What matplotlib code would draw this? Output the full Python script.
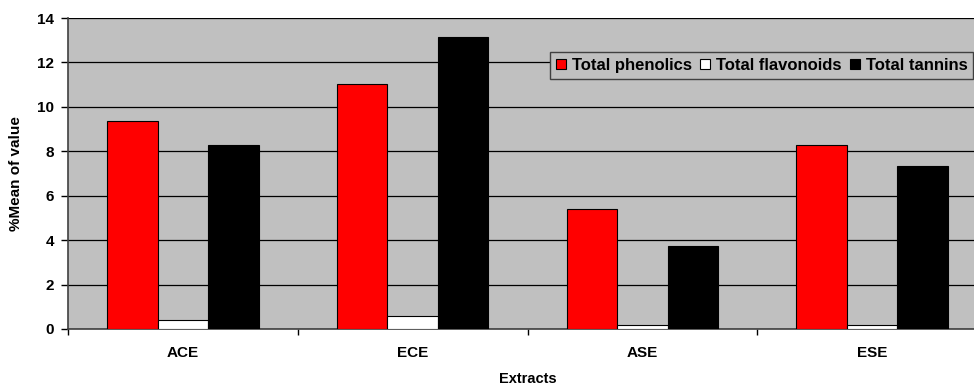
import matplotlib
matplotlib.use("Agg")
import matplotlib.pyplot as plt
import numpy as np

extracts = ["ACE", "ECE", "ASE", "ESE"]
series_names = ["Total phenolics", "Total flavonoids", "Total tannins"]
phenolics = [9.38, 11.02, 5.40, 8.29]
flavonoids = [0.40, 0.58, 0.20, 0.20]
tannins = [8.29, 13.15, 3.75, 7.34]
colors = ["#ff0000", "#ffffff", "#000000"]

plt.rcParams["font.family"] = ["Liberation Sans", "DejaVu Sans"]
plt.rcParams["font.weight"] = "bold"

fig = plt.figure(figsize=(9.74, 3.87), dpi=100)
ax = fig.add_axes([68 / 974, 58 / 387, 919 / 974, 311 / 387])
ax.set_facecolor("#c0c0c0")

x = np.arange(len(extracts))
w = 0.22
for i, (vals, name) in enumerate(zip([phenolics, flavonoids, tannins], series_names)):
    ax.bar(x + (i - 1) * w, vals, width=w, color=colors[i], edgecolor="black",
           linewidth=0.8, label=name, zorder=3)

ax.set_xlim(-0.5, len(extracts) - 0.5)
ax.set_ylim(0, 14)
ax.set_yticks(range(0, 15, 2))
ax.yaxis.grid(True, color="black", linewidth=0.9, zorder=1)
ax.set_axisbelow(True)

ax.set_xticks(x)
ax.set_xticklabels(extracts, fontsize=11, fontweight="bold")
ax.set_xticks(np.arange(-0.5, len(extracts)), minor=True)
ax.tick_params(axis="x", which="major", length=0, pad=12)
ax.tick_params(axis="x", which="minor", length=4, width=1, direction="out")
ax.tick_params(axis="y", length=5, width=1, labelsize=11, pad=5)
for lab in ax.get_yticklabels():
    lab.set_fontweight("bold")

for side in ["top", "right"]:
    ax.spines[side].set_visible(False)
ax.spines["left"].set_linewidth(1.2)
ax.spines["left"].set_color("#404040")
ax.spines["bottom"].set_linewidth(1.2)
ax.spines["bottom"].set_color("#404040")

ax.set_ylabel("%Mean of value", fontsize=11, fontweight="bold", labelpad=10)
ax.set_xlabel("Extracts", fontsize=10.5, fontweight="bold", labelpad=9)

leg = ax.legend(ncol=3, loc="upper left", bbox_to_anchor=(550 / 974, 1 - 52 / 387),
                bbox_transform=fig.transFigure, frameon=True, fancybox=False,
                prop={"size": 12, "weight": "bold"}, handlelength=0.6, handleheight=0.6,
                handletextpad=0.35, columnspacing=0.5, borderpad=0.35, borderaxespad=0)
leg.get_frame().set_facecolor("#c0c0c0")
leg.get_frame().set_edgecolor("#404040")
leg.get_frame().set_linewidth(1)
leg.get_frame().set_alpha(1)

fig.savefig("out.png", dpi=100)
